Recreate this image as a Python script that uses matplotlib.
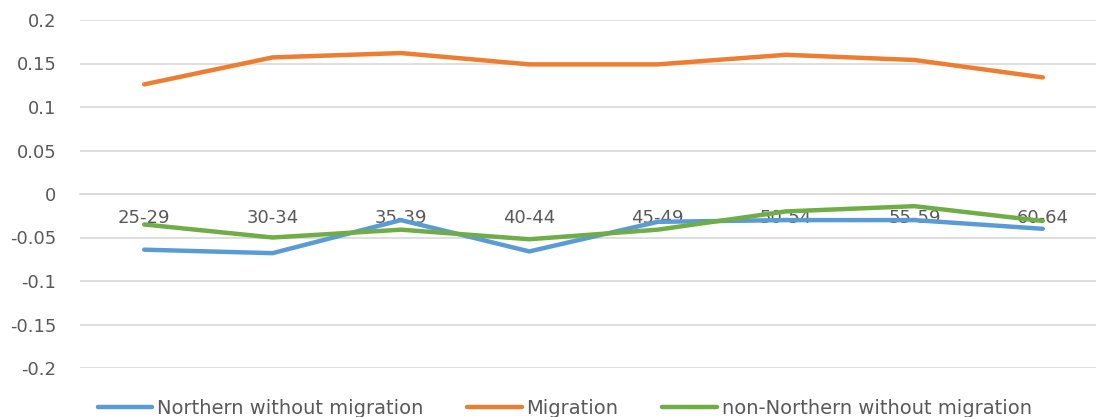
import numpy as np
import matplotlib.pyplot as plt

# age groups and series
age_groups = ['25-29', '30-34', '35-39', '40-44', '45-49', '50-54', '55-59', '60-64']
northern_no_mig = [-0.064, -0.068, -0.030, -0.066, -0.032, -0.030, -0.030, -0.040]
migration = [0.126, 0.157, 0.162, 0.149, 0.149, 0.160, 0.154, 0.134]
non_northern_no_mig = [-0.035, -0.050, -0.041, -0.052, -0.041, -0.020, -0.014, -0.031]

fig = plt.figure(figsize=(10.96, 4.17), dpi=100)
ax = fig.add_axes([80 / 1096, 49 / 417, 1027 / 1096, 348 / 417])

x = np.arange(len(age_groups))
ax.plot(x, northern_no_mig, color='#5B9BD5', lw=3.2, solid_capstyle='round',
        label='Northern without migration')
ax.plot(x, migration, color='#ED7D31', lw=3.2, solid_capstyle='round',
        label='Migration')
ax.plot(x, non_northern_no_mig, color='#70AD47', lw=3.2, solid_capstyle='round',
        label='non-Northern without migration')

ax.set_xlim(-0.5, len(age_groups) - 0.5)
ax.set_ylim(-0.2, 0.2)
yt = np.arange(-0.2, 0.2001, 0.05)
ax.set_yticks(yt)
ax.set_yticklabels(['-0.2', '-0.15', '-0.1', '-0.05', '0', '0.05', '0.1', '0.15', '0.2'])
ax.set_xticks(x)
ax.set_xticklabels(age_groups)

for s in ['top', 'right', 'left']:
    ax.spines[s].set_visible(False)
ax.spines['bottom'].set_position(('data', 0))
ax.spines['bottom'].set_color('#D9D9D9')
ax.spines['bottom'].set_linewidth(1.2)
ax.grid(axis='y', color='#D9D9D9', lw=1.2)
ax.set_axisbelow(True)
ax.tick_params(axis='x', length=0, labelsize=13, colors='#595959', pad=11)
ax.tick_params(axis='y', length=0, labelsize=13, colors='#595959', pad=17)

fig.legend(loc='center left', bbox_to_anchor=(90 / 1096, 9 / 417), ncol=3, frameon=False,
           fontsize=14, labelcolor='#595959', handlelength=2.8, handletextpad=0.25,
           columnspacing=2.25, borderaxespad=0)

plt.savefig('out.png', dpi=100)
